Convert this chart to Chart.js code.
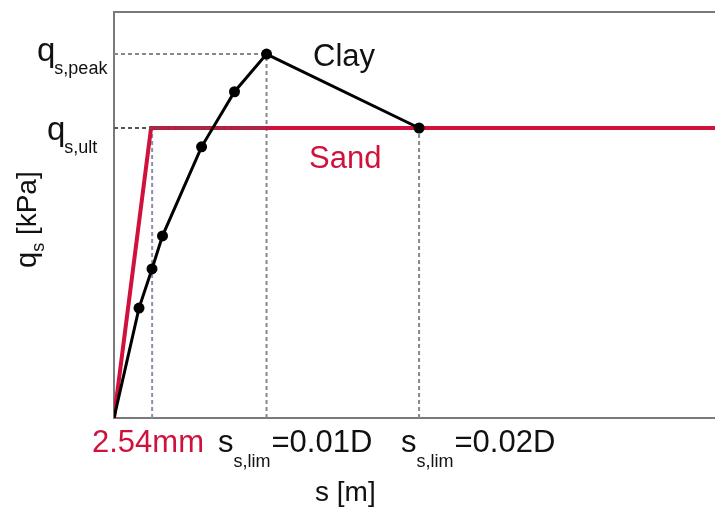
<!DOCTYPE html>
<html><head><meta charset="utf-8">
<script src="https://cdn.jsdelivr.net/npm/chart.js@4/dist/chart.umd.min.js"></script>
<style>html,body{margin:0;padding:0;background:#fff;}canvas{display:block;}</style>
</head><body>
<canvas id="c" width="715" height="516"></canvas>
<script>
// ---- data (x in units of 0.01D, y relative to q_s,ult) ----
const clayS = [0, 0.164, 0.249, 0.318, 0.574, 0.79, 1.0, 2.0];
const clayQ = [0, 0.379, 0.514, 0.628, 0.935, 1.125, 1.255, 1.0];
const sandS = [0, 0.243, 3.94];
const sandQ = [0, 1.0, 1.0];
const sLim1 = 1.0, sLim2 = 2.0, s254 = 0.25;
const qPeak = 1.255, qUlt = 1.0;
const xMax = 3.94, yMax = 1.4;
const xTickLabels = ['2.54mm', '=0.01D', '=0.02D'];
const yTickLabels = ['peak', 'ult'];
const seriesNames = ['Clay', 'Sand'];

const RED = '#d0113b';
const pts = (xs, ys) => xs.map((x, i) => ({x, y: ys[i]}));

const FONT = '"Liberation Sans", Arial, sans-serif';
function rich(ctx, x, y, parts) {
  let cx = x;
  for (const p of parts) {
    ctx.font = p.size + 'px ' + FONT;
    ctx.fillStyle = p.color || '#111';
    ctx.fillText(p.t, cx, y + (p.dy || 0));
    cx += ctx.measureText(p.t).width + (p.gap || 0);
  }
}

const textPlugin = {
  id: 'texts',
  afterDraw(chart) {
    const ctx = chart.ctx;
    const a = chart.chartArea;
    ctx.save();
    // top frame line
    ctx.strokeStyle = '#7a7a7a'; ctx.lineWidth = 2;
    ctx.beginPath(); ctx.moveTo(a.left - 1, a.top); ctx.lineTo(a.right, a.top); ctx.stroke();
    ctx.textBaseline = 'alphabetic'; ctx.textAlign = 'left';
    // y labels
    rich(ctx, 37, 61, [{t: 'q', size: 33, gap: -1}, {t: 's,' + yTickLabels[0], size: 18, dy: 13}]);
    rich(ctx, 47, 140, [{t: 'q', size: 33, gap: -1}, {t: 's,' + yTickLabels[1], size: 18, dy: 13}]);
    // series labels
    rich(ctx, 313, 66, [{t: seriesNames[0], size: 31}]);
    rich(ctx, 309, 168, [{t: seriesNames[1], size: 31, color: RED}]);
    // x labels
    rich(ctx, 92, 452, [{t: xTickLabels[0], size: 31, color: RED}]);
    rich(ctx, 218, 452, [{t: 's', size: 31}, {t: 's,lim', size: 18, dy: 15, gap: 1}, {t: xTickLabels[1], size: 31}]);
    rich(ctx, 401, 452, [{t: 's', size: 31}, {t: 's,lim', size: 18, dy: 15, gap: 1}, {t: xTickLabels[2], size: 31}]);
    // axis titles
    rich(ctx, 315, 501, [{t: 's [m]', size: 28}]);
    ctx.translate(36, 268);
    ctx.rotate(-Math.PI / 2);
    rich(ctx, 0, 0, [{t: 'q', size: 29}, {t: 's', size: 18, dy: 8, gap: 0}, {t: ' [kPa]', size: 28}]);
    ctx.restore();
  }
};

const dashed = (data, color, order) => ({
  data, showLine: true, borderColor: color, borderWidth: 2, borderDash: [4, 3],
  pointRadius: 0, fill: false, order
});

new Chart(document.getElementById('c'), {
  type: 'scatter',
  data: {
    datasets: [
      {label: 'Clay', data: pts(clayS, clayQ), showLine: true, borderColor: '#000', borderWidth: 3,
       pointRadius: clayS.map((v, i) => i === 0 ? 0 : 5.5), pointBackgroundColor: '#000', pointBorderWidth: 0, order: 0},
      dashed([{x: 0, y: qUlt}, {x: sLim1, y: qUlt}], '#555', 1),
      {label: 'Sand', data: pts(sandS, sandQ), showLine: true, borderColor: RED, borderWidth: 4,
       pointRadius: 0, order: 2},
      dashed([{x: 0, y: qPeak}, {x: sLim1, y: qPeak}], '#888', 3),
      dashed([{x: s254, y: 0}, {x: s254, y: qUlt}], '#8c8fa8', 3),
      dashed([{x: sLim1, y: 0}, {x: sLim1, y: qPeak}], '#888', 3),
      dashed([{x: sLim2, y: 0}, {x: sLim2, y: qUlt}], '#888', 3)
    ]
  },
  options: {
    responsive: false, animation: false, devicePixelRatio: 1,
    layout: {autoPadding: false, padding: {left: 114, top: 12, right: 0, bottom: 98}},
    plugins: {legend: {display: false}, tooltip: {enabled: false}},
    scales: {
      x: {type: 'linear', min: 0, max: xMax, ticks: {display: false},
          grid: {display: false, drawTicks: false}, border: {display: true, color: '#7a7a7a', width: 2}},
      y: {type: 'linear', min: 0, max: yMax, ticks: {display: false},
          grid: {display: false, drawTicks: false}, border: {display: true, color: '#7a7a7a', width: 2}}
    }
  },
  plugins: [textPlugin]
});
</script>
</body></html>
